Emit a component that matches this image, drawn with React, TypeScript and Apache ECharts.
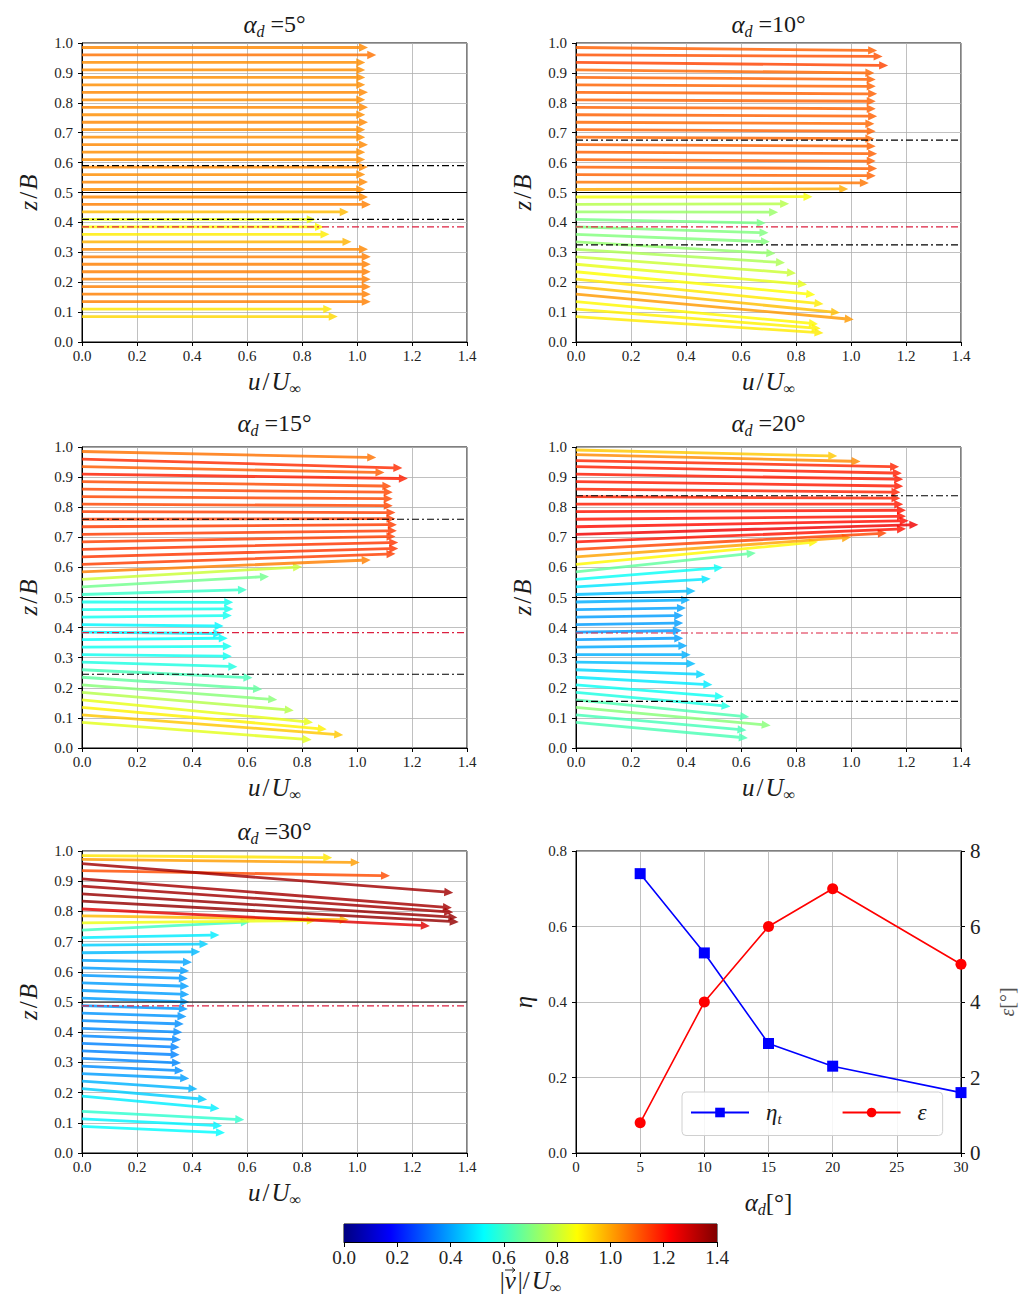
import { useEffect, useRef } from 'react';
import * as echarts from 'echarts';

// ---------- data ----------
const zGrid = [0.085, 0.11, 0.135, 0.16, 0.185, 0.21, 0.235, 0.26, 0.285, 0.31, 0.335, 0.36, 0.385, 0.41, 0.435, 0.46, 0.485, 0.51, 0.535, 0.56, 0.585, 0.61, 0.635, 0.66, 0.685, 0.71, 0.735, 0.76, 0.785, 0.81, 0.835, 0.86, 0.885, 0.91, 0.935, 0.96, 0.985];

// alpha_d = 5
const a5Start = zGrid;
const a5U = [0.93, 0.91, 1.05, 1.05, 1.05, 1.05, 1.05, 1.05, 1.05, 1.04, 0.98, 0.90, 0.88, 0.85, 0.97, 1.05, 1.04, 1.03, 1.04, 1.03, 1.04, 1.03, 1.03, 1.04, 1.03, 1.03, 1.04, 1.03, 1.04, 1.03, 1.04, 1.03, 1.03, 1.03, 1.03, 1.07, 1.04];
const a5End = zGrid;

// alpha_d = 10
const a10Start = zGrid;
const a10U = [0.90, 0.89, 0.88, 1.01, 0.96, 0.90, 0.87, 0.84, 0.80, 0.76, 0.725, 0.705, 0.70, 0.69, 0.735, 0.775, 0.86, 0.99, 1.065, 1.09, 1.095, 1.09, 1.095, 1.09, 1.085, 1.09, 1.085, 1.095, 1.09, 1.09, 1.095, 1.09, 1.09, 1.085, 1.135, 1.115, 1.095];
const a10End = [0.03, 0.045, 0.06, 0.075, 0.098, 0.127, 0.158, 0.192, 0.23, 0.265, 0.296, 0.335, 0.365, 0.398, 0.434, 0.462, 0.486, 0.512, 0.532, 0.556, 0.58, 0.605, 0.63, 0.655, 0.68, 0.705, 0.73, 0.755, 0.78, 0.805, 0.83, 0.855, 0.878, 0.90, 0.925, 0.955, 0.975];

// alpha_d = 15
const a15Start = zGrid;
const a15U = [0.835, 0.95, 0.89, 0.84, 0.77, 0.71, 0.655, 0.62, 0.565, 0.545, 0.545, 0.53, 0.51, 0.515, 0.545, 0.55, 0.55, 0.60, 0.68, 0.80, 1.05, 1.14, 1.15, 1.15, 1.14, 1.145, 1.145, 1.14, 1.14, 1.13, 1.13, 1.13, 1.125, 1.185, 1.10, 1.165, 1.07];
const a15End = [0.027, 0.043, 0.062, 0.085, 0.125, 0.16, 0.195, 0.233, 0.27, 0.305, 0.338, 0.365, 0.38, 0.405, 0.44, 0.462, 0.484, 0.526, 0.57, 0.602, 0.625, 0.645, 0.663, 0.683, 0.703, 0.722, 0.742, 0.762, 0.782, 0.805, 0.828, 0.85, 0.87, 0.895, 0.915, 0.93, 0.965];

// alpha_d = 20
const a20Start = [0.085, 0.11, 0.135, 0.16, 0.185, 0.21, 0.235, 0.26, 0.285, 0.31, 0.335, 0.36, 0.385, 0.41, 0.435, 0.46, 0.485, 0.51, 0.535, 0.56, 0.585, 0.61, 0.635, 0.66, 0.685, 0.71, 0.735, 0.76, 0.785, 0.81, 0.835, 0.86, 0.885, 0.91, 0.935, 0.955, 0.975, 0.99];
const a20U = [0.625, 0.62, 0.708, 0.63, 0.562, 0.538, 0.496, 0.47, 0.435, 0.417, 0.405, 0.39, 0.385, 0.39, 0.39, 0.40, 0.415, 0.435, 0.49, 0.535, 0.654, 0.88, 1.0, 1.13, 1.2, 1.245, 1.21, 1.2, 1.2, 1.19, 1.18, 1.18, 1.19, 1.19, 1.185, 1.175, 1.035, 0.95];
const a20End = [0.033, 0.059, 0.075, 0.103, 0.138, 0.17, 0.21, 0.244, 0.28, 0.31, 0.34, 0.365, 0.39, 0.415, 0.44, 0.465, 0.492, 0.522, 0.562, 0.60, 0.648, 0.685, 0.70, 0.714, 0.728, 0.742, 0.755, 0.77, 0.79, 0.81, 0.83, 0.85, 0.87, 0.893, 0.913, 0.934, 0.952, 0.97];

// alpha_d = 30
const a30Start = [0.088, 0.113, 0.138, 0.188, 0.213, 0.238, 0.263, 0.288, 0.313, 0.338, 0.363, 0.388, 0.413, 0.438, 0.463, 0.488, 0.513, 0.538, 0.563, 0.588, 0.613, 0.638, 0.663, 0.688, 0.713, 0.738, 0.762, 0.785, 0.808, 0.834, 0.858, 0.884, 0.908, 0.935, 0.958, 0.972, 0.985];
const a30U = [0.52, 0.51, 0.59, 0.50, 0.455, 0.42, 0.39, 0.37, 0.36, 0.355, 0.355, 0.36, 0.365, 0.37, 0.38, 0.385, 0.39, 0.39, 0.39, 0.385, 0.39, 0.40, 0.43, 0.46, 0.50, 0.61, 0.85, 0.97, 1.265, 1.37, 1.365, 1.35, 1.345, 1.12, 1.35, 1.01, 0.91];
const a30End = [0.067, 0.09, 0.11, 0.147, 0.177, 0.212, 0.247, 0.272, 0.298, 0.325, 0.35, 0.375, 0.40, 0.427, 0.452, 0.477, 0.50, 0.525, 0.552, 0.578, 0.603, 0.632, 0.666, 0.692, 0.722, 0.765, 0.77, 0.772, 0.752, 0.765, 0.78, 0.797, 0.812, 0.918, 0.862, 0.962, 0.978];

// horizontal reference lines
const a5Dash = [0.59, 0.41];
const a5Red = [0.385];
const a10Dash = [0.675, 0.325];
const a10Red = [0.385];
const a15Dash = [0.76, 0.245];
const a15Red = [0.383];
const a20Dash = [0.838, 0.155];
const a20Red = [0.382];
const a30Dash: number[] = [];
const a30Red = [0.487];
const solidLine = [0.5];

const panelAngles = [5, 10, 15, 20, 30];
const angles = [5, 10, 15, 20, 30];
const eta = [0.74, 0.53, 0.29, 0.23, 0.16];
const eps = [0.8, 4.0, 6.0, 7.0, 5.0];

const cbStopsPos = [0, 0.125, 0.375, 0.625, 0.875, 1];

// ---------- helpers ----------
const SERIF = 'Liberation Serif';
const TXT = '#1a1a1a';

function clamp(v: number) {
  return Math.max(0, Math.min(1, v));
}
function jet(t: number) {
  t = clamp(t);
  const r = clamp(Math.min(4 * t - 1.5, -4 * t + 4.5));
  const g = clamp(Math.min(4 * t - 0.5, -4 * t + 3.5));
  const b = clamp(Math.min(4 * t + 0.5, -4 * t + 2.5));
  return `rgb(${Math.round(r * 255)},${Math.round(g * 255)},${Math.round(b * 255)})`;
}

const base = { fontFamily: SERIF, fontWeight: 'normal', color: TXT };
const rich = {
  it: { ...base, fontStyle: 'italic', fontSize: 25, lineHeight: 30 },
  rm: { ...base, fontSize: 25, lineHeight: 30 },
  sl: { ...base, fontSize: 25, lineHeight: 30, padding: [0, 2, 0, 2] },
  sub: { ...base, fontStyle: 'italic', fontSize: 16, lineHeight: 14, verticalAlign: 'bottom' },
};
const titleRich = {
  it: { ...base, fontStyle: 'italic', fontSize: 25, lineHeight: 30 },
  rm: { ...base, fontSize: 24, lineHeight: 30 },
  sub: { ...base, fontStyle: 'italic', fontSize: 16, lineHeight: 14, verticalAlign: 'bottom' },
};

function arrowItem(_params: any, api: any) {
  const z0 = api.value(0);
  const u = api.value(1);
  const z1 = api.value(2);
  const m = api.value(3);
  const p0 = api.coord([0, z0]);
  const p1 = api.coord([u, z1]);
  const dx = p1[0] - p0[0];
  const dy = p1[1] - p0[1];
  const L = Math.hypot(dx, dy) || 1;
  const ux = dx / L, uy = dy / L;
  const nx = -uy, ny = ux;
  const hw = 1.4, hh = 4.2, hl = 9;
  const bx = p1[0] - ux * hl, by = p1[1] - uy * hl;
  const pts = [
    [p0[0] + nx * hw, p0[1] + ny * hw],
    [bx + nx * hw, by + ny * hw],
    [bx + nx * hh, by + ny * hh],
    [p1[0], p1[1]],
    [bx - nx * hh, by - ny * hh],
    [bx - nx * hw, by - ny * hw],
    [p0[0] - nx * hw, p0[1] - ny * hw],
  ];
  return { type: 'polygon', shape: { points: pts }, style: { fill: jet(m / 1.4), opacity: 0.82 } };
}

function colorbarItem(_params: any, api: any) {
  const p0 = api.coord([api.value(0), 1]);
  const p1 = api.coord([api.value(1), 0]);
  const stops = cbStopsPos.map((s) => ({ offset: s, color: jet(s) }));
  return {
    type: 'rect',
    shape: { x: p0[0], y: p0[1], width: p1[0] - p0[0], height: p1[1] - p0[1] },
    style: { fill: new echarts.graphic.LinearGradient(0, 0, 1, 0, stops) },
  };
}

export default function App() {
  const ref = useRef<HTMLDivElement>(null);
  useEffect(() => {
    if (!ref.current) return;
    const chart = echarts.init(ref.current, undefined, { renderer: 'svg' });

    const starts = [a5Start, a10Start, a15Start, a20Start, a30Start];
    const us = [a5U, a10U, a15U, a20U, a30U];
    const ends = [a5End, a10End, a15End, a20End, a30End];
    const dashes = [a5Dash, a10Dash, a15Dash, a20Dash, a30Dash];
    const reds = [a5Red, a10Red, a15Red, a20Red, a30Red];

    const grids = [
      { left: 82, top: 43, width: 385, height: 299 },
      { left: 576, top: 43, width: 385, height: 299 },
      { left: 82, top: 447, width: 385, height: 301 },
      { left: 576, top: 447, width: 385, height: 301 },
      { left: 82, top: 851, width: 385, height: 302 },
      { left: 576, top: 851, width: 385, height: 302 },
      { left: 344, top: 1224, width: 373, height: 18 },
    ].map((g) => ({ ...g, show: true, borderColor: '#000', borderWidth: 1, containLabel: false }));

    const titleCx = [274.5, 768.5, 274.5, 768.5, 274.5];
    const titleTop = [9, 9, 408, 408, 816];

    const axisLine = { show: true, lineStyle: { color: '#000', width: 1 } };
    const axisTick = { show: true, inside: false, length: 4, lineStyle: { color: '#000', width: 1 } };
    const splitLine = { show: true, lineStyle: { color: '#b0b0b0', width: 0.8 } };
    const tickLabel = { fontFamily: SERIF, fontSize: 15, color: '#222' };

    const xAxes: any[] = [];
    const yAxes: any[] = [];
    const series: any[] = [];

    for (let i = 0; i < 5; i++) {
      xAxes.push({
        gridIndex: i, type: 'value', min: 0, max: 1.4, interval: 0.2,
        axisLine, axisTick, splitLine,
        axisLabel: { ...tickLabel, margin: 6, formatter: (v: number) => v.toFixed(1) },
        name: '{it|u}{sl|/}{it|U}{sub|∞}', nameLocation: 'middle', nameGap: 24,
        nameTextStyle: { rich },
      });
      yAxes.push({
        gridIndex: i, type: 'value', min: 0, max: 1, interval: 0.1,
        axisLine, axisTick, splitLine,
        axisLabel: { ...tickLabel, margin: 9, formatter: (v: number) => v.toFixed(1) },
        name: '{it|z}{sl|/}{it|B}', nameLocation: 'middle', nameGap: 39, nameRotate: 90,
        nameTextStyle: { rich },
      });
      const data = starts[i].map((z, k) => [z, us[i][k], ends[i][k], Math.hypot(us[i][k], ends[i][k] - z)]);
      series.push({
        type: 'custom', xAxisIndex: i, yAxisIndex: i, renderItem: arrowItem, data, z: 2, silent: true,
      });
      const refLines: { z: number; color: string; type: any }[] = [];
      solidLine.forEach((z) => refLines.push({ z, color: '#000', type: 'solid' }));
      dashes[i].forEach((z) => refLines.push({ z, color: '#000', type: [7, 3, 2, 3] }));
      reds[i].forEach((z) => refLines.push({ z, color: '#dc2040', type: [7, 3, 2, 3] }));
      refLines.forEach((l) => {
        series.push({
          type: 'line', xAxisIndex: i, yAxisIndex: i, data: [[0, l.z], [1.4, l.z]],
          showSymbol: false, symbol: 'none', silent: true, z: 5,
          lineStyle: { color: l.color, width: 1.2, type: l.type },
        });
      });
    }

    // panel 6: line chart
    xAxes.push({
      gridIndex: 5, type: 'value', min: 0, max: 30, interval: 5,
      axisLine, axisTick, splitLine,
      axisLabel: { ...tickLabel, margin: 6 },
      name: '{it|α}{sub|d}{rm|[°]}', nameLocation: 'middle', nameGap: 34,
      nameTextStyle: { rich },
    });
    yAxes.push({
      gridIndex: 5, type: 'value', position: 'left', min: 0, max: 0.8, interval: 0.2,
      axisLine, axisTick, splitLine,
      axisLabel: { ...tickLabel, margin: 9, formatter: (v: number) => v.toFixed(1) },
      name: '{it|η}', nameLocation: 'middle', nameGap: 38, nameRotate: 90,
      nameTextStyle: { rich },
    });
    yAxes.push({
      gridIndex: 5, type: 'value', position: 'right', min: 0, max: 8, interval: 2,
      axisLine, axisTick, splitLine: { show: false },
      axisLabel: { fontFamily: SERIF, fontSize: 21, color: '#222', margin: 9 },
      name: '{e|ε}{f|[°]}', nameLocation: 'middle', nameGap: 33, nameRotate: 90,
      nameTextStyle: {
        rich: {
          e: { ...base, fontStyle: 'italic', fontSize: 20, lineHeight: 26, color: '#555' },
          f: { ...base, fontSize: 20, lineHeight: 26, color: '#555' },
        },
      },
    });
    series.push({
      name: 'eta', type: 'line', xAxisIndex: 5, yAxisIndex: 5,
      data: angles.map((a, k) => [a, eta[k]]),
      symbol: 'rect', symbolSize: 11, color: '#0000ff',
      lineStyle: { color: '#0000ff', width: 1.6 }, itemStyle: { color: '#0000ff' }, z: 3,
    });
    series.push({
      name: 'eps', type: 'line', xAxisIndex: 5, yAxisIndex: 6,
      data: angles.map((a, k) => [a, eps[k]]),
      symbol: 'circle', symbolSize: 11, color: '#ff0000',
      lineStyle: { color: '#ff0000', width: 1.6 }, itemStyle: { color: '#ff0000' }, z: 3,
    });

    // colorbar
    xAxes.push({
      gridIndex: 6, type: 'value', min: 0, max: 1.4, interval: 0.2,
      axisLine, axisTick: { ...axisTick, length: 5 }, splitLine: { show: false },
      axisLabel: { fontFamily: SERIF, fontSize: 19, color: '#222', margin: 6, formatter: (v: number) => v.toFixed(1) },
      name: '{rm||}{it|v}{sl||/}{it|U}{sub|∞}', nameLocation: 'middle', nameGap: 15,
      nameTextStyle: { rich },
    });
    yAxes.push({ gridIndex: 6, type: 'value', min: 0, max: 1, show: false });
    series.push({
      type: 'custom', xAxisIndex: 6, yAxisIndex: 7, renderItem: colorbarItem,
      data: [[0, 1.4]], silent: true,
    });

    const option: any = {
      animation: false,
      backgroundColor: '#fff',
      title: panelAngles.map((a, i) => ({
        text: `{it|α}{sub|d}{rm| =${a}°}`,
        left: titleCx[i], top: titleTop[i], textAlign: 'center', padding: 0,
        textStyle: { fontWeight: 'normal', rich: titleRich },
      })),
      grid: grids,
      xAxis: xAxes,
      yAxis: yAxes,
      legend: {
        data: ['eta', 'eps'],
        left: 682, top: 1092, orient: 'horizontal',
        itemWidth: 58, itemHeight: 12, itemGap: 60,
        padding: [9, 16, 9, 8],
        backgroundColor: 'rgba(255,255,255,0.85)', borderColor: '#d0d0d0', borderWidth: 1, borderRadius: 4,
        formatter: (n: string) => (n === 'eta' ? '{lp|η}{ls|t}' : '{lp|ε}'),
        textStyle: {
          rich: {
            lp: { ...base, fontStyle: 'italic', fontSize: 23, lineHeight: 28, padding: [0, 0, 0, 12] },
            ls: { ...base, fontStyle: 'italic', fontSize: 15, lineHeight: 14, verticalAlign: 'bottom' },
          },
        },
      },
      graphic: [
        {
          type: 'group', silent: true,
          children: [
            { type: 'line', shape: { x1: 505, y1: 1270, x2: 515, y2: 1270 }, style: { stroke: TXT, lineWidth: 1 } },
            { type: 'polyline', shape: { points: [[512, 1267.5], [515, 1270], [512, 1272.5]] }, style: { stroke: TXT, lineWidth: 1, fill: null } },
          ],
        },
      ],
      series,
    };
    chart.setOption(option);
    return () => chart.dispose();
  }, []);
  return <div ref={ref} style={{ position: 'absolute', left: 0, top: 0, width: 1023, height: 1315 }} />;
}
